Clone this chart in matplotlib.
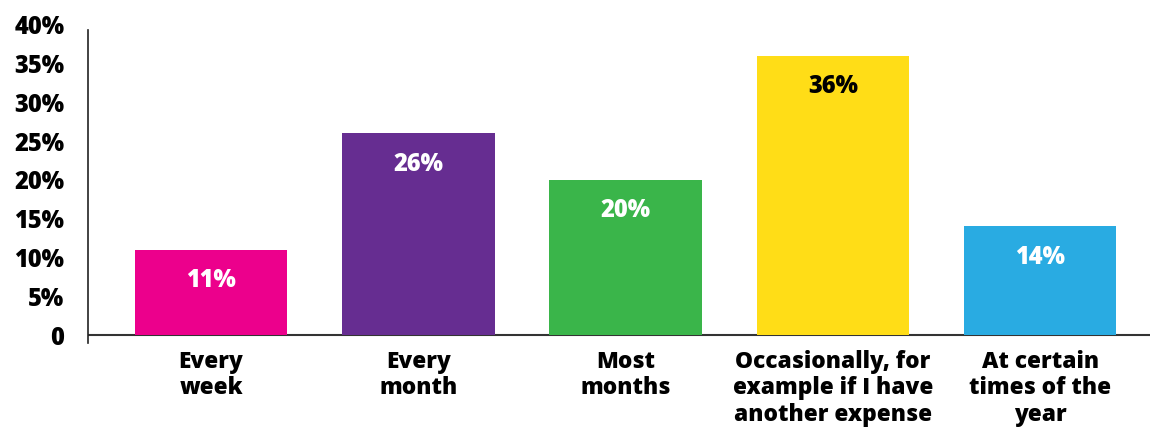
import matplotlib.pyplot as plt

categories = ['Every\nweek', 'Every\nmonth', 'Most\nmonths',
              'Occasionally, for\nexample if I have\nanother expense',
              'At certain\ntimes of the\nyear']
values = [11, 26, 20, 36, 14]
colors = ['#EC008C', '#662D91', '#3AB54A', '#FFDD17', '#29ABE2']
label_colors = ['white', 'white', 'white', 'black', 'white']
yticks = [0, 5, 10, 15, 20, 25, 30, 35, 40]

plt.rcParams['font.family'] = ['Open Sans', 'DejaVu Sans']

fig = plt.figure(figsize=(11.5, 4.29), dpi=100)
ax = fig.add_axes([0.0765, 0.201, 0.9235, 0.741])

x = range(len(values))
ax.bar(x, values, width=0.735, color=colors, zorder=2)
ax.axhline(0, color='#333333', lw=1.5, zorder=1)

for i, v in enumerate(values):
    ax.text(i, v - 4.0, f'{v}%', ha='center', va='center', fontsize=17,
            fontweight='heavy', color=label_colors[i], zorder=3)

ax.set_xlim(-0.594, 4.53)
ax.set_ylim(-1, 40)
ax.set_yticks(yticks)
ax.set_yticklabels(['0'] + [f'{t}%' for t in yticks[1:]],
                   fontsize=17, fontweight='heavy')
ax.tick_params(axis='y', length=0, pad=17)

ax.set_xticks(list(x))
ax.set_xticklabels(categories, fontsize=16.3, fontweight='heavy',
                   linespacing=1.15, va='top')
ax.tick_params(axis='x', length=0, pad=5)

for side in ['top', 'right', 'bottom']:
    ax.spines[side].set_visible(False)
ax.spines['left'].set_color('#222222')
ax.spines['left'].set_linewidth(1.2)
ax.spines['left'].set_bounds(-1, 39.4)

fig.savefig('out.png', dpi=100)
